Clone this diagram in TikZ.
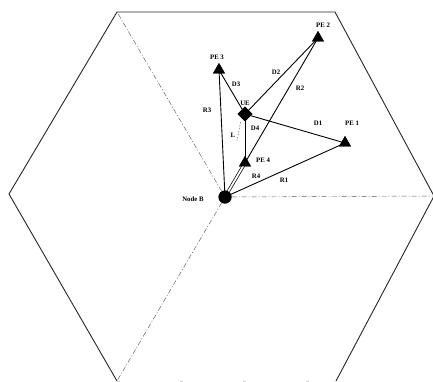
\documentclass[tikz,border=0pt]{standalone}
\usepackage{fontspec}
\setmainfont{Liberation Serif}
\usetikzlibrary{shapes.geometric}
\begin{document}
\begin{tikzpicture}[x=1pt,y=-1pt,
  hexline/.style={line width=0.9pt,black!85},
  sector/.style={line width=0.45pt,black!65,dash pattern=on 5pt off 2pt on 1pt off 2pt},
  link/.style={line width=0.9pt,black},
  pe/.style={isosceles triangle,isosceles triangle apex angle=60,shape border rotate=90,fill=black,inner sep=0pt,minimum width=12pt,minimum height=10pt},
  ue/.style={diamond,fill=black,inner sep=0pt,minimum width=15pt,minimum height=15pt},
  bs/.style={circle,fill=black,inner sep=0pt,minimum size=13pt},
  lbl/.style={font=\fontsize{6.8}{7}\selectfont\bfseries,inner sep=0.5pt}]
\useasboundingbox (0,0) rectangle (433,381);
% hexagon vertices
\coordinate (h1) at (117,12);
\coordinate (h2) at (335,12);
\coordinate (h3) at (434,196);
\coordinate (h4) at (336,381);
\coordinate (h5) at (117,381);
\coordinate (h6) at (9,194);
\draw[hexline] (h5) -- (h6) -- (h1) -- (h2) -- (h3) -- (h4);
\draw[line width=0.4pt,black!20,dash pattern=on 3pt off 60pt] (h5) -- (h4);
% nodes
\node[bs] (B) at (225,197) {};
\node[pe] (PE1) at (345,143) {};
\node[pe] (PE2) at (318,38) {};
\node[pe] (PE3) at (219,70) {};
\node[pe] (PE4) at (245,163) {};
\node[ue] (UE) at (245,114) {};
% sector lines
\draw[sector] (B) -- (h1);
\draw[sector] (B) -- (h3);
\draw[sector] (B) -- (h5);
% links
\draw[link] (B.center) -- (PE3.center);
\draw[link] (B.center) -- (PE2.center);
\draw[link] (B.center) -- (PE1.center);
\draw[link,double distance=1.8pt,line width=0.7pt] (B.center) -- (PE4.center);
\draw[link] (PE3.center) -- (UE.center);
\draw[link] (PE2.center) -- (UE.center);
\draw[link] (UE.center) -- (PE1.center);
\draw[link] (UE.center) -- (PE4.center);
\coordinate (L1) at (240.5,122);
\coordinate (L2) at (237,141);
\draw[line width=0.5pt,black!60,dash pattern=on 1.5pt off 1.5pt] (L1) -- (L2);
% redraw markers on top
\node[pe] at (PE1) {};
\node[pe] at (PE2) {};
\node[pe] at (PE3) {};
\node[pe] at (PE4) {};
\node[ue] at (UE) {};
\node[bs] at (B) {};
% labels
\node[lbl] (tPE2) at (323,25) {PE 2};
\node[lbl] (tPE3) at (217,57) {PE 3};
\node[lbl] (tD3) at (236,84) {D3};
\node[lbl] (tD2) at (276,72) {D2};
\node[lbl] (tR2) at (300,88) {R2};
\node[lbl] (tUE) at (245,103) {UE};
\node[lbl] (tR3) at (207,110) {R3};
\node[lbl] (tD1) at (318,123) {D1};
\node[lbl] (tPE1) at (352,123) {PE 1};
\node[lbl] (tL) at (233,135) {L};
\node[lbl] (tD4) at (255,128) {D4};
\node[lbl] (tPE4) at (263,160) {PE 4};
\node[lbl] (tR4) at (256,176) {R4};
\node[lbl] (tR1) at (284,180) {R1};
\node[lbl] (tB) at (193,199) {Node B};
\end{tikzpicture}
\end{document}
